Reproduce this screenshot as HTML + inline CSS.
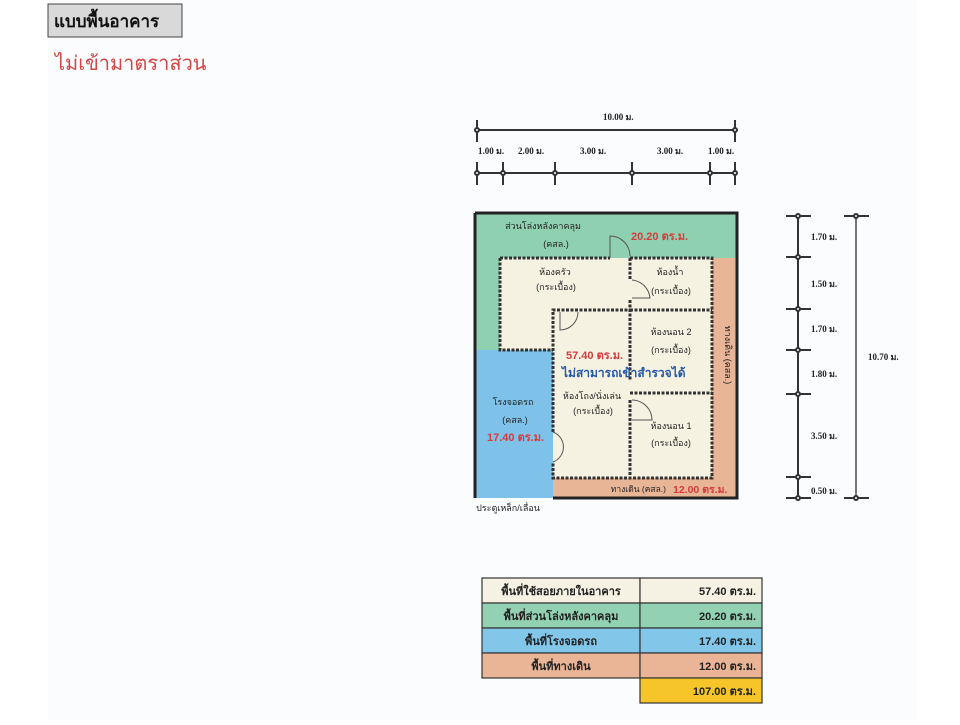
<!DOCTYPE html>
<html><head><meta charset="utf-8"><style>
body{margin:0;background:#fff;width:960px;height:720px;overflow:hidden;font-family:"Liberation Sans",sans-serif}
</style></head><body>
<svg width="960" height="720" viewBox="0 0 960 720" xmlns="http://www.w3.org/2000/svg" font-family="Liberation Sans, sans-serif">
<rect x="48" y="0" width="870" height="720" fill="#fbfcfd"/>
<rect x="48" y="4" width="134" height="33" fill="#d9d9d9" stroke="#444" stroke-width="1"/>
<text x="54" y="27" font-size="17" font-weight="bold" fill="#111">แบบพื้นอาคาร</text>
<text x="55" y="70" font-size="20" fill="#d44545">ไม่เข้ามาตราส่วน</text>

<!-- top dims -->
<g stroke="#333" stroke-width="2" fill="#fff">
<line x1="477" y1="130" x2="735" y2="130"/>
<line x1="477" y1="120" x2="477" y2="142"/><line x1="735" y1="120" x2="735" y2="142"/>
<line x1="477" y1="173" x2="735" y2="173"/>
<line x1="477" y1="162" x2="477" y2="185"/><line x1="503" y1="162" x2="503" y2="185"/><line x1="555" y1="162" x2="555" y2="185"/><line x1="632" y1="162" x2="632" y2="185"/><line x1="710" y1="162" x2="710" y2="185"/><line x1="735" y1="162" x2="735" y2="185"/>
<circle cx="477" cy="130" r="2"/><circle cx="735" cy="130" r="2"/>
<circle cx="477" cy="173" r="2"/><circle cx="503" cy="173" r="2"/><circle cx="555" cy="173" r="2"/><circle cx="632" cy="173" r="2"/><circle cx="710" cy="173" r="2"/><circle cx="735" cy="173" r="2"/>
</g>
<g font-family="Liberation Serif, serif" font-size="9" font-weight="bold" fill="#222">
<text x="603" y="120">10.00 ม.</text>
<text x="478" y="154">1.00 ม.</text><text x="518" y="154">2.00 ม.</text><text x="580" y="154">3.00 ม.</text><text x="657" y="154">3.00 ม.</text><text x="708" y="154">1.00 ม.</text>
</g>

<!-- right dims -->
<g stroke="#333" stroke-width="2" fill="#fff">
<line x1="798" y1="216" x2="798" y2="498"/>
<line x1="856" y1="216" x2="856" y2="498" stroke="#777"/>
<line x1="786" y1="216" x2="811" y2="216"/><line x1="786" y1="257" x2="811" y2="257"/><line x1="786" y1="309" x2="811" y2="309"/><line x1="786" y1="350" x2="811" y2="350"/><line x1="786" y1="394" x2="811" y2="394"/><line x1="786" y1="477" x2="811" y2="477"/><line x1="786" y1="498" x2="811" y2="498"/>
<line x1="844" y1="216" x2="869" y2="216"/><line x1="844" y1="498" x2="869" y2="498"/>
<circle cx="798" cy="216" r="2"/><circle cx="798" cy="257" r="2"/><circle cx="798" cy="309" r="2"/><circle cx="798" cy="350" r="2"/><circle cx="798" cy="394" r="2"/><circle cx="798" cy="477" r="2"/><circle cx="798" cy="498" r="2"/>
<circle cx="856" cy="216" r="2"/><circle cx="856" cy="498" r="2"/>
</g>
<g font-family="Liberation Serif, serif" font-size="9" font-weight="bold" fill="#222">
<text x="811" y="240">1.70 ม.</text><text x="811" y="287">1.50 ม.</text><text x="811" y="332">1.70 ม.</text><text x="811" y="377">1.80 ม.</text><text x="811" y="439">3.50 ม.</text><text x="811" y="494">0.50 ม.</text>
<text x="868" y="360">10.70 ม.</text>
</g>

<!-- plan -->
<rect x="475" y="213" width="262" height="285" fill="#8fd0b0"/>
<rect x="475" y="350" width="78" height="148" fill="#7ec2ea"/>
<rect x="712" y="258" width="25" height="240" fill="#e9b597"/>
<rect x="553" y="478" width="184" height="20" fill="#e9b597"/>
<polygon points="500,258 712,258 712,478 553,478 553,350 500,350" fill="#f6f2e2"/>
<path d="M475,213 H737 V498 H553 M475,213 V498" fill="none" stroke="#222" stroke-width="3"/>
<g fill="none" stroke="#333" stroke-width="3" stroke-dasharray="3,1.5">
<path d="M500,258 H610 M630,258 H712 V478 H553 V462 M553,432 V310 H630 M500,258 V350 H553"/>
<path d="M630,258 V280 M630,300 V380 M630,400 V478 M630,310 H712 M630,393 H712"/>
</g>
<g fill="none" stroke="#555" stroke-width="1">
<path d="M610,258 V236 A20,20 0 0 1 630,256"/>
<path d="M632,280 A20,20 0 0 1 650,298 H632"/>
<path d="M560,312 V330 A18,18 0 0 0 578,312"/>
<path d="M632,400 A20,20 0 0 1 652,420 H632"/>
<path d="M553,432 A16,16 0 0 1 553,462"/>
</g>
<g font-size="9" fill="#222" text-anchor="middle">
<text x="543" y="229">ส่วนโล่งหลังคาคลุม</text><text x="556" y="247">(คสล.)</text>
<text x="555" y="275">ห้องครัว</text><text x="556" y="290">(กระเบื้อง)</text>
<text x="670" y="275">ห้องน้ำ</text><text x="671" y="294">(กระเบื้อง)</text>
<text x="671" y="335">ห้องนอน 2</text><text x="671" y="353">(กระเบื้อง)</text>
<text x="592" y="399">ห้องโถง/นั่งเล่น</text><text x="593" y="414">(กระเบื้อง)</text>
<text x="671" y="429">ห้องนอน 1</text><text x="671" y="446">(กระเบื้อง)</text>
<text x="513" y="405">โรงจอดรถ</text><text x="515" y="423">(คสล.)</text>
<text x="508" y="511">ประตูเหล็ก/เลื่อน</text>
<text transform="translate(725,355) rotate(90)">ทางเดิน (คสล.)</text>
</g>
<text x="666" y="492" font-size="8.5" fill="#222" text-anchor="end">ทางเดิน (คสล.)</text>
<g font-size="11" font-weight="bold" fill="#d43c3c">
<text x="631" y="240">20.20 ตร.ม.</text>
<text x="566" y="359">57.40 ตร.ม.</text>
<text x="487" y="441">17.40 ตร.ม.</text>
<text x="673" y="493" font-size="10.5">12.00 ตร.ม.</text>
</g>
<text x="562" y="377" font-size="12" font-weight="bold" fill="#2458a8">ไม่สามารถเข้าสำรวจได้</text>

<!-- table -->
<g stroke="#333" stroke-width="1.2">
<rect x="482" y="578" width="158" height="25" fill="#f5f2e3"/><rect x="640" y="578" width="122" height="25" fill="#f5f2e3"/>
<rect x="482" y="603" width="158" height="25" fill="#92d1b1"/><rect x="640" y="603" width="122" height="25" fill="#92d1b1"/>
<rect x="482" y="628" width="158" height="25" fill="#82c6ea"/><rect x="640" y="628" width="122" height="25" fill="#82c6ea"/>
<rect x="482" y="653" width="158" height="25" fill="#eab597"/><rect x="640" y="653" width="122" height="25" fill="#eab597"/>
<rect x="640" y="678" width="122" height="25" fill="#f5c52a"/>
</g>
<g font-size="11" font-weight="bold" fill="#222">
<g text-anchor="middle"><text x="561" y="595">พื้นที่ใช้สอยภายในอาคาร</text><text x="561" y="620">พื้นที่ส่วนโล่งหลังคาคลุม</text><text x="561" y="645">พื้นที่โรงจอดรถ</text><text x="561" y="670">พื้นที่ทางเดิน</text></g>
<g text-anchor="end"><text x="756" y="595">57.40 ตร.ม.</text><text x="756" y="620">20.20 ตร.ม.</text><text x="756" y="645">17.40 ตร.ม.</text><text x="756" y="670">12.00 ตร.ม.</text><text x="756" y="695">107.00 ตร.ม.</text></g>
</g>
</svg>
</body></html>
